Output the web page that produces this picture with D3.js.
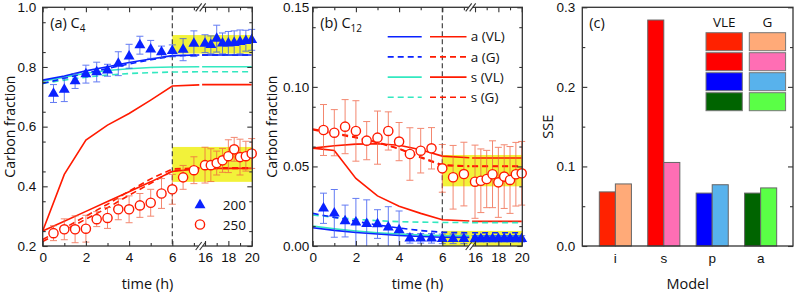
<!DOCTYPE html>
<html>
<head>
<meta charset="utf-8">
<script src="https://cdn.jsdelivr.net/npm/d3@7"></script>
<style>
body{margin:0;background:#fff;}
svg{font-family:"Open Sans","Noto Sans",sans-serif;}
</style>
</head>
<body>
<div id="chart"></div>
<script>
"use strict";
// temps des mesures (h) : 0.5..7 puis 16..20 après la coupure
const tObs = [0.5,1,1.5,2,2.5,3,3.5,4,4.5,5,5.5,6,6.5,7, 16,16.5,17,17.5,18,18.5,19,19.5,20];
// temps des modèles (les deux derniers = palier après la coupure)
const tModel = [0,1,2,3,4,5,6,7.25,15.75,20];

// (a) C4
const c4Obs200 = [0.711,0.724,0.753,0.776,0.783,0.789,0.811,0.836,0.873,0.859,0.850,0.854,0.858,0.878, 0.878,0.874,0.895,0.879,0.879,0.881,0.884,0.888,0.891];
const c4Err200 = [0.03,0.04,0.025,0.03,0.033,0.02,0.04,0.04,0.03,0.03,0.02,0.02,0.037,0.043, 0.03,0.03,0.045,0.035,0.04,0.04,0.04,0.035,0.035];
const c4Obs250 = [0.243,0.256,0.256,0.258,0.290,0.294,0.323,0.323,0.336,0.345,0.376,0.390,0.430,0.454, 0.471,0.471,0.478,0.487,0.501,0.524,0.498,0.501,0.510];
const c4Err250 = [0.025,0.035,0.045,0.045,0.025,0.035,0.035,0.045,0.04,0.045,0.05,0.05,0.04,0.045, 0.06,0.055,0.04,0.04,0.055,0.04,0.06,0.05,0.05];
const c4_200_aVL = [0.756,0.770,0.787,0.801,0.815,0.827,0.838,0.840,0.840,0.840];
const c4_200_aG  = [0.745,0.762,0.779,0.795,0.810,0.824,0.837,0.840,0.840,0.840];
const c4_200_sVL = [0.752,0.766,0.779,0.788,0.794,0.798,0.800,0.801,0.801,0.801];
const c4_200_sG  = [0.745,0.756,0.766,0.773,0.778,0.781,0.783,0.784,0.784,0.784];
const c4_250_aVL = [0.250,0.283,0.316,0.349,0.382,0.415,0.450,0.460,0.460,0.460];
const c4_250_aG  = [0.215,0.252,0.290,0.328,0.370,0.410,0.452,0.460,0.460,0.460];
const c4_250_sVL = [0.250,0.440,0.555,0.605,0.644,0.689,0.736,0.740,0.741,0.741];
const c4_250_sG  = [0.222,0.260,0.300,0.340,0.384,0.425,0.458,0.462,0.462,0.462];
const c4Bands = [[0.845,0.907],[0.415,0.532]];
const c4Ticks = [0.2,0.4,0.6,0.8,1.0];

// (b) C12
const c12Obs200 = [0.0237,0.0205,0.0157,0.0149,0.0140,0.0138,0.0117,0.0100,0.0048,0.0048,0.0048,0.0045,0.0045,0.0045, 0.0045,0.0045,0.0045,0.0045,0.0045,0.0045,0.0045,0.0045,0.0045];
const c12Err200 = [0.0095,0.015,0.010,0.015,0.015,0.009,0.013,0.012,0.003,0.003,0.003,0.003,0.003,0.003, 0.002,0.002,0.002,0.002,0.002,0.002,0.002,0.002,0.002];
const c12Obs250 = [0.0729,0.0712,0.0750,0.0723,0.0662,0.0681,0.0723,0.0656,0.0578,0.0599,0.0614,0.0488,0.0432,0.0452, 0.0404,0.0410,0.0421,0.0451,0.0400,0.0436,0.0415,0.0451,0.0457];
const c12Err250 = [0.016,0.0145,0.017,0.019,0.012,0.0167,0.012,0.012,0.0165,0.014,0.013,0.015,0.02,0.02, 0.023,0.02,0.018,0.021,0.022,0.02,0.021,0.02,0.02];
const c12_200_aVL = [0.0115,0.0098,0.0085,0.0075,0.0066,0.0060,0.0055,0.0054,0.0054,0.0054];
const c12_200_aG  = [0.0205,0.0180,0.0155,0.0132,0.0113,0.0097,0.0086,0.0083,0.0083,0.0083];
const c12_200_sVL = [0.0125,0.0108,0.0094,0.0083,0.0075,0.0069,0.0065,0.0064,0.0064,0.0064];
const c12_200_sG  = [0.0195,0.0180,0.0168,0.0159,0.0153,0.0150,0.0148,0.0147,0.0147,0.0147];
const c12_250_aVL = [0.0615,0.0630,0.0640,0.0643,0.0633,0.0605,0.0565,0.0555,0.0553,0.0553];
const c12_250_aG  = [0.0730,0.0705,0.0680,0.0650,0.0610,0.0555,0.0505,0.0500,0.0500,0.0500];
const c12_250_sVL = [0.0615,0.0600,0.0425,0.0315,0.0250,0.0205,0.0165,0.0157,0.0155,0.0155];
const c12_250_sG  = [0.0735,0.0710,0.0685,0.0652,0.0612,0.0560,0.0510,0.0503,0.0503,0.0503];
const c12Bands = [[0.0375,0.0572],[0.0,0.0095]];
const c12Ticks = [0,0.05,0.10,0.15];

// (c) SSE
const models = ["i","s","p","a"];
const sseVLE = [0.068,0.284,0.0665,0.0665];
const sseG   = [0.078,0.105,0.077,0.073];
const colVLE = ["#ff2200","#ff0000","#0000ff","#006400"];
const colG   = ["#ffaa78","#ff6eb4","#58b2ec","#5aff46"];

const RED = "#ff1a00", BLUE = "#0a22ff", CYAN = "#33e8c0", YEL = "#f2f23a", AX = "#333";
const T = 7.3, B = 246;

const svg = d3.select("#chart").append("svg").attr("width",796).attr("height",294);

function styleAxis(g){
    g.select(".domain").remove();
    g.selectAll("line").attr("stroke",AX).attr("stroke-width",1.1);
    g.selectAll("text").attr("fill","#111").attr("font-size",13.5).attr("font-family",null);
}

function drawTimePanel(p){
    const L = p.left, R = L + 209.6;
    const xl = d3.scaleLinear().domain([0,7.25]).range([L, L+156.6]);
    const xr = d3.scaleLinear().domain([15.75,20]).range([L+159.4, L+209]);
    const x = t => t < 10 ? xl(t) : xr(t);
    const y = d3.scaleLinear().domain(p.yDomain).range([B,T]);
    const g = svg.append("g");

    //bandes jaunes
    g.selectAll("rect.band").data(p.bands).enter().append("rect")
        .attr("x",xl(6)).attr("width",R-xl(6))
        .attr("y",d=>y(d[1])).attr("height",d=>y(d[0])-y(d[1]))
        .attr("fill",YEL);

    g.append("line").attr("x1",xl(6)).attr("x2",xl(6)).attr("y1",T).attr("y2",B)
        .attr("stroke",AX).attr("stroke-width",1.1).attr("stroke-dasharray","5,3");

    //courbes des modèles, coupées en deux morceaux
    const line = d3.line().x(d=>x(d[0])).y(d=>y(d[1]));
    p.lines.forEach(ln=>{
        const pts = tModel.map((t,i)=>[t, ln.v[i]]);
        [pts.filter(d=>d[0]<10), pts.filter(d=>d[0]>10)].forEach(seg=>{
            g.append("path").attr("d",line(seg)).attr("fill","none")
                .attr("stroke",ln.c).attr("stroke-width",1.6)
                .attr("stroke-dasharray",ln.dash ? "6,4" : null);
        });
    });

    //mesures + barres d'erreur
    p.obs.forEach(o=>{
        const data = tObs.map((t,i)=>({t:t, v:o.v[i], e:o.e[i]}));
        const eb = g.append("g").attr("stroke",o.ec).attr("stroke-width",1).attr("opacity",0.75);
        data.forEach(d=>{
            const cx = x(d.t), y0 = y(Math.max(d.v-d.e, p.yDomain[0])), y1 = y(d.v+d.e);
            eb.append("line").attr("x1",cx).attr("x2",cx).attr("y1",y0).attr("y2",y1);
            eb.append("line").attr("x1",cx-3.5).attr("x2",cx+3.5).attr("y1",y1).attr("y2",y1);
            if (d.v-d.e > p.yDomain[0]) eb.append("line").attr("x1",cx-3.5).attr("x2",cx+3.5).attr("y1",y0).attr("y2",y0);
        });
        if (o.shape=="tri"){
            g.selectAll(null).data(data).enter().append("path")
                .attr("d",d3.symbol(d3.symbolTriangle).size(52))
                .attr("transform",d=>`translate(${x(d.t)},${y(d.v)})`)
                .attr("fill",BLUE);
        } else {
            g.selectAll(null).data(data).enter().append("circle")
                .attr("cx",d=>x(d.t)).attr("cy",d=>y(d.v)).attr("r",4.6)
                .attr("fill","#fff").attr("stroke",RED).attr("stroke-width",1.4);
        }
    });

    //cadre et axes
    g.append("rect").attr("x",L).attr("y",T).attr("width",R-L).attr("height",B-T)
        .attr("fill","none").attr("stroke",AX).attr("stroke-width",1.3);
    [[xl,[0,2,4,6],[1,3,5,7]],[xr,[16,18,20],[17,19]]].forEach(a=>{
        g.append("g").attr("transform",`translate(0,${B})`)
            .call(d3.axisBottom(a[0]).tickValues(a[1]).tickSize(-5).tickPadding(6).tickFormat(d3.format("d"))).call(styleAxis);
        g.append("g").attr("transform",`translate(0,${B})`)
            .call(d3.axisBottom(a[0]).tickValues(a[2]).tickSize(-3).tickFormat("")).call(styleAxis);
        g.append("g").attr("transform",`translate(0,${T})`)
            .call(d3.axisTop(a[0]).tickValues(a[1]).tickSize(-5).tickFormat("")).call(styleAxis);
        g.append("g").attr("transform",`translate(0,${T})`)
            .call(d3.axisTop(a[0]).tickValues(a[2]).tickSize(-3).tickFormat("")).call(styleAxis);
    });
    const minorY = d3.range(p.yDomain[0]+p.minor, p.yDomain[1], p.minor*2);
    g.append("g").attr("transform",`translate(${L},0)`)
        .call(d3.axisLeft(y).tickValues(p.ticks).tickSize(-5).tickPadding(p.pad).tickFormat(d3.format(p.fmt))).call(styleAxis);
    g.append("g").attr("transform",`translate(${L},0)`)
        .call(d3.axisLeft(y).tickValues(minorY).tickSize(-3).tickFormat("")).call(styleAxis);
    g.append("g").attr("transform",`translate(${R},0)`)
        .call(d3.axisRight(y).tickValues(p.ticks).tickSize(-5).tickFormat("")).call(styleAxis);
    g.append("g").attr("transform",`translate(${R},0)`)
        .call(d3.axisRight(y).tickValues(minorY).tickSize(-3).tickFormat("")).call(styleAxis);

    //symbole de coupure //
    const bx = L + 158;
    [T,B].forEach(yy=>{
        g.append("rect").attr("x",bx-2).attr("y",yy-2).attr("width",4).attr("height",4).attr("fill","#fff");
        [-2,2].forEach(dx=>g.append("line")
            .attr("x1",bx+dx-3).attr("y1",yy+4).attr("x2",bx+dx+3).attr("y2",yy-4)
            .attr("stroke",AX).attr("stroke-width",1.1));
    });

    //titres
    g.append("text").attr("x",(L+R)/2).attr("y",289).attr("text-anchor","middle")
        .attr("font-size",14.5).attr("fill","#111").text("time (h)");
    g.append("text").attr("transform",`translate(${p.ylabX},${(T+B)/2}) rotate(-90)`)
        .attr("dy","0.35em").attr("text-anchor","middle")
        .attr("font-size",14).attr("fill","#111").text("Carbon fraction");
    const lab = g.append("text").attr("x",L+7.5).attr("y",28).attr("font-size",14.5).attr("fill","#111");
    lab.append("tspan").text(p.label);
    lab.append("tspan").attr("dy",4).attr("font-size",10).text(p.sub);
    return {L:L, R:R};
}

// (a)
const pa = drawTimePanel({
    left:42.7, yDomain:[0.2,1.0], ticks:c4Ticks, minor:0.05, fmt:".1f", pad:6.5, ylabX:10.5,
    bands:c4Bands, label:"(a) C", sub:"4",
    lines:[
        {v:c4_250_aVL,c:RED},{v:c4_250_aG,c:RED,dash:1},{v:c4_250_sVL,c:RED},{v:c4_250_sG,c:RED,dash:1},
        {v:c4_200_sVL,c:CYAN},{v:c4_200_sG,c:CYAN,dash:1},{v:c4_200_aVL,c:BLUE},{v:c4_200_aG,c:BLUE,dash:1}
    ],
    obs:[{v:c4Obs200,e:c4Err200,shape:"tri",ec:"#3050f0"},{v:c4Obs250,e:c4Err250,shape:"circ",ec:"#f06040"}]
});
// légende (a)
svg.append("path").attr("d",d3.symbol(d3.symbolTriangle).size(52)())
    .attr("transform",`translate(${pa.L+157.3},205)`).attr("fill",BLUE);
svg.append("circle").attr("cx",pa.L+157.3).attr("cy",224.5).attr("r",4.6)
    .attr("fill","#fff").attr("stroke",RED).attr("stroke-width",1.4);
svg.append("text").attr("x",pa.L+180).attr("y",209.5).attr("font-size",13.5).attr("fill","#111").text("200");
svg.append("text").attr("x",pa.L+180).attr("y",229.5).attr("font-size",13.5).attr("fill","#111").text("250");

// (b)
const pb = drawTimePanel({
    left:312.7, yDomain:[0,0.15], ticks:c12Ticks, minor:0.0125, fmt:".2f", pad:3.5, ylabX:272,
    bands:c12Bands, label:"(b) C", sub:"12",
    lines:[
        {v:c12_250_aVL,c:RED},{v:c12_250_aG,c:RED,dash:1},{v:c12_250_sVL,c:RED},{v:c12_250_sG,c:RED,dash:1},
        {v:c12_200_sVL,c:CYAN},{v:c12_200_sG,c:CYAN,dash:1},{v:c12_200_aVL,c:BLUE},{v:c12_200_aG,c:BLUE,dash:1}
    ],
    obs:[{v:c12Obs250,e:c12Err250,shape:"circ",ec:"#f06040"},{v:c12Obs200,e:c12Err200,shape:"tri",ec:"#3050f0"}]
});
// légende (b)
const legB = [["a (VL)",BLUE,0],["a (G)",BLUE,1],["s (VL)",CYAN,0],["s (G)",CYAN,1]];
legB.forEach((d,i)=>{
    const yy = 36.7 + i*20.2;
    svg.append("line").attr("x1",pb.L+75).attr("x2",pb.L+109).attr("y1",yy).attr("y2",yy)
        .attr("stroke",d[1]).attr("stroke-width",1.6).attr("stroke-dasharray",d[2]?"6,4":null);
    svg.append("line").attr("x1",pb.L+117.3).attr("x2",pb.L+153.8).attr("y1",yy).attr("y2",yy)
        .attr("stroke",RED).attr("stroke-width",1.6).attr("stroke-dasharray",d[2]?"6,4":null);
    svg.append("text").attr("x",pb.L+158).attr("y",yy).attr("dy","0.35em")
        .attr("font-size",13.5).attr("fill","#111").text(d[0]);
});

// (c) SSE
(function(){
    const L = 582.3, R = 793;
    const x = d3.scaleBand().domain(models).range([L+0.7,R]).padding(0.337);
    const xs = d3.scaleBand().domain(["VLE","G"]).range([0,x.bandwidth()]);
    const y = d3.scaleLinear().domain([0,0.3]).range([B,T]);
    const g = svg.append("g");
    const bars = models.map((m,i)=>[{m:m,k:"VLE",v:sseVLE[i],c:colVLE[i]},{m:m,k:"G",v:sseG[i],c:colG[i]}]).flat();
    g.selectAll("rect.bar").data(bars).enter().append("rect")
        .attr("x",d=>x(d.m)+xs(d.k)).attr("width",xs.bandwidth())
        .attr("y",d=>y(d.v)).attr("height",d=>B-y(d.v))
        .attr("fill",d=>d.c).attr("stroke","#666").attr("stroke-width",1);
    g.append("rect").attr("x",L).attr("y",T).attr("width",R-L).attr("height",B-T)
        .attr("fill","none").attr("stroke",AX).attr("stroke-width",1.3);
    g.append("g").attr("transform",`translate(0,${B})`)
        .call(d3.axisBottom(x).tickSize(0).tickPadding(7)).call(styleAxis);
    g.append("g").attr("transform",`translate(${L},0)`)
        .call(d3.axisLeft(y).tickValues([0,0.1,0.2,0.3]).tickSize(-5).tickPadding(7).tickFormat(d3.format(".1f"))).call(styleAxis);
    g.append("g").attr("transform",`translate(${L},0)`)
        .call(d3.axisLeft(y).tickValues([0.05,0.15,0.25]).tickSize(-3).tickFormat("")).call(styleAxis);
    g.append("g").attr("transform",`translate(${R},0)`)
        .call(d3.axisRight(y).tickValues([0,0.1,0.2,0.3]).tickSize(-5).tickFormat("")).call(styleAxis);
    g.append("g").attr("transform",`translate(${R},0)`)
        .call(d3.axisRight(y).tickValues([0.05,0.15,0.25]).tickSize(-3).tickFormat("")).call(styleAxis);
    g.append("text").attr("x",(L+R)/2).attr("y",289).attr("text-anchor","middle")
        .attr("font-size",14.5).attr("fill","#111").text("Model");
    g.append("text").attr("transform",`translate(548,${(T+B)/2}) rotate(-90)`)
        .attr("dy","0.35em").attr("text-anchor","middle")
        .attr("font-size",14.5).attr("fill","#111").text("SSE");
    g.append("text").attr("x",L+7).attr("y",28).attr("font-size",14.5).attr("fill","#111").text("(c)");
    //légende VLE / G
    const lx = [706,749.3];
    ["VLE","G"].forEach((h,j)=>g.append("text").attr("x",lx[j]+18.2).attr("y",27).attr("text-anchor","middle")
        .attr("font-size",13.5).attr("fill","#111").text(h));
    models.forEach((m,i)=>{
        [colVLE[i],colG[i]].forEach((c,j)=>g.append("rect")
            .attr("x",lx[j]).attr("y",32.7+i*20).attr("width",36.3).attr("height",18)
            .attr("fill",c).attr("stroke","#777").attr("stroke-width",1));
    });
})();
</script>
</body>
</html>
